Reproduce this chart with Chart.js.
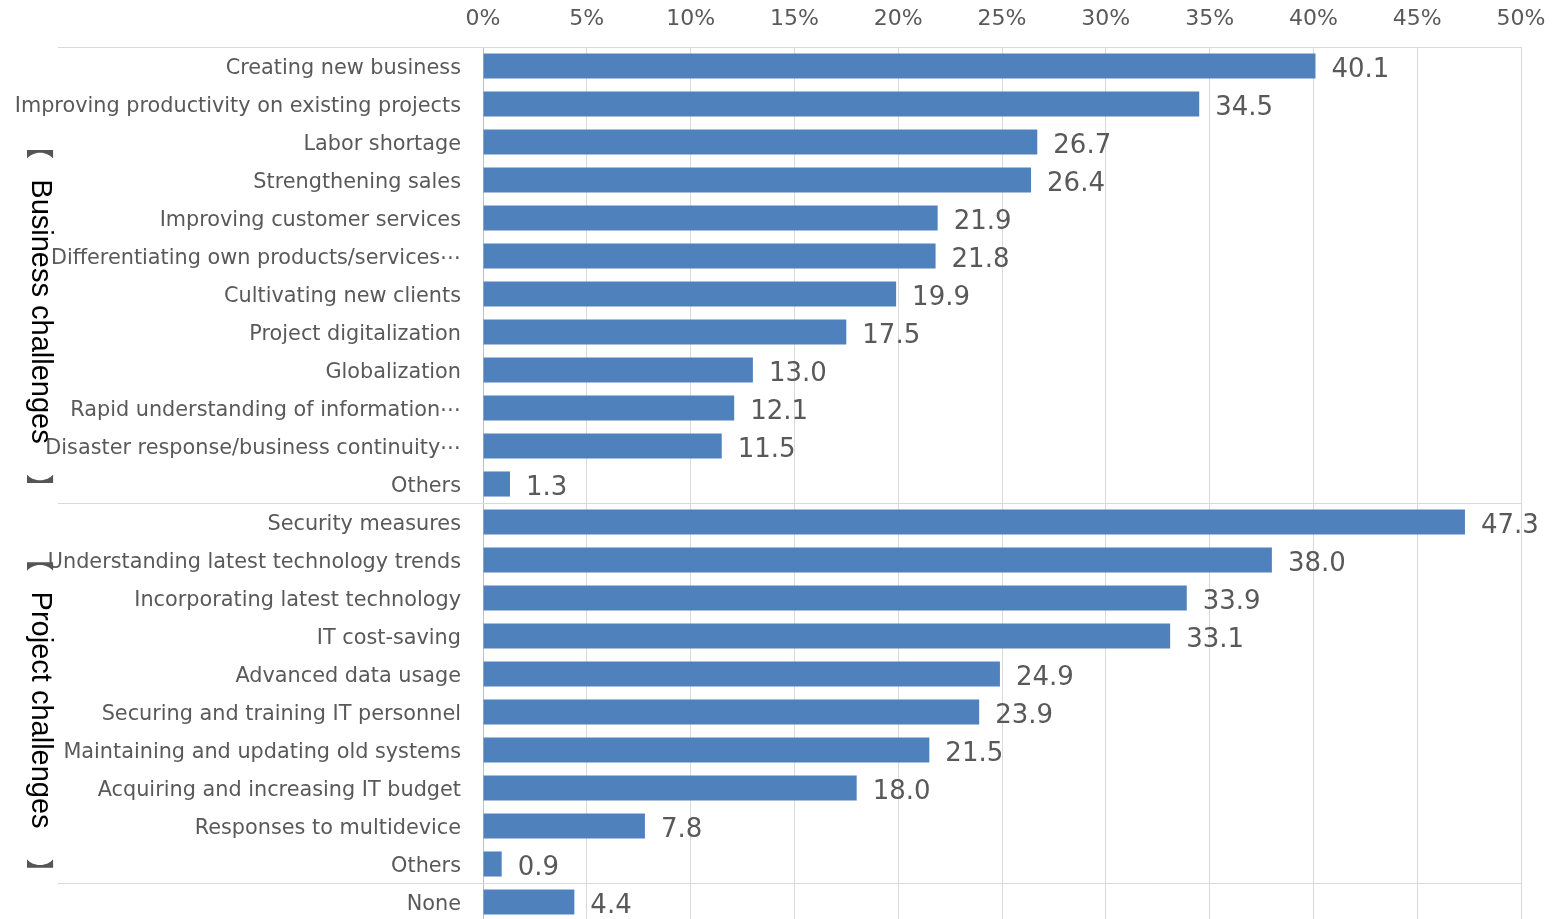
<!DOCTYPE html>
<html>
<head>
<meta charset="utf-8">
<script src="https://cdn.jsdelivr.net/npm/chart.js@4.4.0/dist/chart.umd.min.js"></script>
<style>
  html, body { margin: 0; padding: 0; background: #fff; overflow: hidden; }
  canvas { display: block; }
</style>
</head>
<body>
<canvas id="chart" width="1555" height="921"></canvas>
<script>
  // categories, top to bottom
  const CATEGORIES = [
    "Creating new business",
    "Improving productivity on existing projects",
    "Labor shortage",
    "Strengthening sales",
    "Improving customer services",
    "Differentiating own products/services\u22EF",
    "Cultivating new clients",
    "Project digitalization",
    "Globalization",
    "Rapid understanding of information\u22EF",
    "Disaster response/business continuity\u22EF",
    "Others",
    "Security measures",
    "Understanding latest technology trends",
    "Incorporating latest technology",
    "IT cost-saving",
    "Advanced data usage",
    "Securing and training IT personnel",
    "Maintaining and updating old systems",
    "Acquiring and increasing IT budget",
    "Responses to multidevice",
    "Others",
    "None"
  ];
  const VALUES = [
    40.1, 34.5, 26.7, 26.4, 21.9, 21.8, 19.9, 17.5, 13.0, 12.1, 11.5, 1.3,
    47.3, 38.0, 33.9, 33.1, 24.9, 23.9, 21.5, 18.0, 7.8, 0.9,
    4.4
  ];
  // group names and the first/last category index they cover
  const GROUP_NAMES = ["Business challenges", "Project challenges"];
  const GROUP_FIRST = [0, 12];
  const GROUP_LAST = [11, 21];
  const X_MIN = 0, X_MAX = 50, X_STEP = 5;

  const BAR_COLOR = "#4f81bd";
  const GRID_COLOR = "#d9d9d9";
  const TEXT_GRAY = "#595959";

  const valueLabels = {
    id: "valueLabels",
    afterDatasetsDraw(chart){
      const ctx = chart.ctx;
      const meta = chart.getDatasetMeta(0);
      ctx.save();
      ctx.font = "26px 'DejaVu Sans'";
      ctx.fillStyle = TEXT_GRAY;
      ctx.textAlign = "left";
      ctx.textBaseline = "middle";
      meta.data.forEach((bar, i) => {
        ctx.fillText(VALUES[i].toFixed(1), bar.x + 16, bar.y + 4);
      });
      ctx.restore();
    }
  };

  // the group titles sit a little below the middle of their rows, as in the source
  const GROUP_SHIFT = [0.96, 0.45];

  const groupDecor = {
    id: "groupDecor",
    afterDraw(chart){
      const ctx = chart.ctx;
      const y = chart.scales.y;
      const area = chart.chartArea;
      const half = (y.getPixelForValue(1) - y.getPixelForValue(0)) / 2;

      // separator lines at group boundaries, reaching into the label area
      const bounds = [GROUP_FIRST[0]].concat(GROUP_LAST.map(i => i + 1));
      ctx.save();
      ctx.strokeStyle = GRID_COLOR;
      ctx.lineWidth = 1;
      bounds.forEach(i => {
        const py = Math.round(y.getPixelForValue(i) - half) + 0.5;
        ctx.beginPath();
        ctx.moveTo(58, py);
        ctx.lineTo(area.right, py);
        ctx.stroke();
      });
      ctx.restore();

      // rotated group titles with vertical brackets
      GROUP_NAMES.forEach((name, g) => {
        const mid = (GROUP_FIRST[g] + GROUP_LAST[g]) / 2 + GROUP_SHIFT[g];
        const cy = y.getPixelForValue(mid);
        ctx.save();
        ctx.translate(40, cy);
        ctx.rotate(Math.PI / 2);
        ctx.font = "29px 'Liberation Sans', Arial";
        ctx.fillStyle = "#000";
        ctx.textAlign = "center";
        ctx.textBaseline = "middle";
        ctx.fillText(name, 0, 0);
        const w = ctx.measureText(name).width;
        ctx.font = "28px 'Noto Sans CJK JP'";
        ctx.fillStyle = "#555";
        ctx.textAlign = "right";
        ctx.fillText("\u3010", -w / 2 - 20, 0);
        ctx.textAlign = "left";
        ctx.fillText("\u3011", w / 2 + 30, 0);
        ctx.restore();
      });
    }
  };

  new Chart(document.getElementById("chart"), {
    type: "bar",
    data: {
      labels: CATEGORIES,
      datasets: [{
        data: VALUES,
        backgroundColor: BAR_COLOR,
        borderWidth: 0,
        barPercentage: 0.66,
        categoryPercentage: 1
      }]
    },
    options: {
      indexAxis: "y",
      responsive: false,
      animation: false,
      layout: { padding: { left: 0, right: 34, top: 0, bottom: 0 } },
      plugins: { legend: { display: false }, tooltip: { enabled: false } },
      scales: {
        x: {
          position: "top",
          min: X_MIN,
          max: X_MAX,
          afterFit(scale){
            scale.height = 47;
            scale.paddingLeft = 0;
            scale.paddingRight = 0;
          },
          ticks: {
            stepSize: X_STEP,
            padding: 15,
            color: TEXT_GRAY,
            font: { family: "'DejaVu Sans'", size: 22 },
            callback: v => v + "%"
          },
          grid: { color: GRID_COLOR, drawTicks: false },
          border: { display: false }
        },
        y: {
          afterFit(scale){
            scale.width = 483;
            scale.paddingTop = 0;
            scale.paddingBottom = 0;
          },
          ticks: {
            autoSkip: false,
            padding: 22,
            labelOffset: 3,
            color: TEXT_GRAY,
            font: { family: "'DejaVu Sans'", size: 20.8 }
          },
          grid: { display: false, drawTicks: false },
          border: { display: true, color: "#bfbfbf" }
        }
      }
    },
    plugins: [valueLabels, groupDecor]
  });
</script>
</body>
</html>
